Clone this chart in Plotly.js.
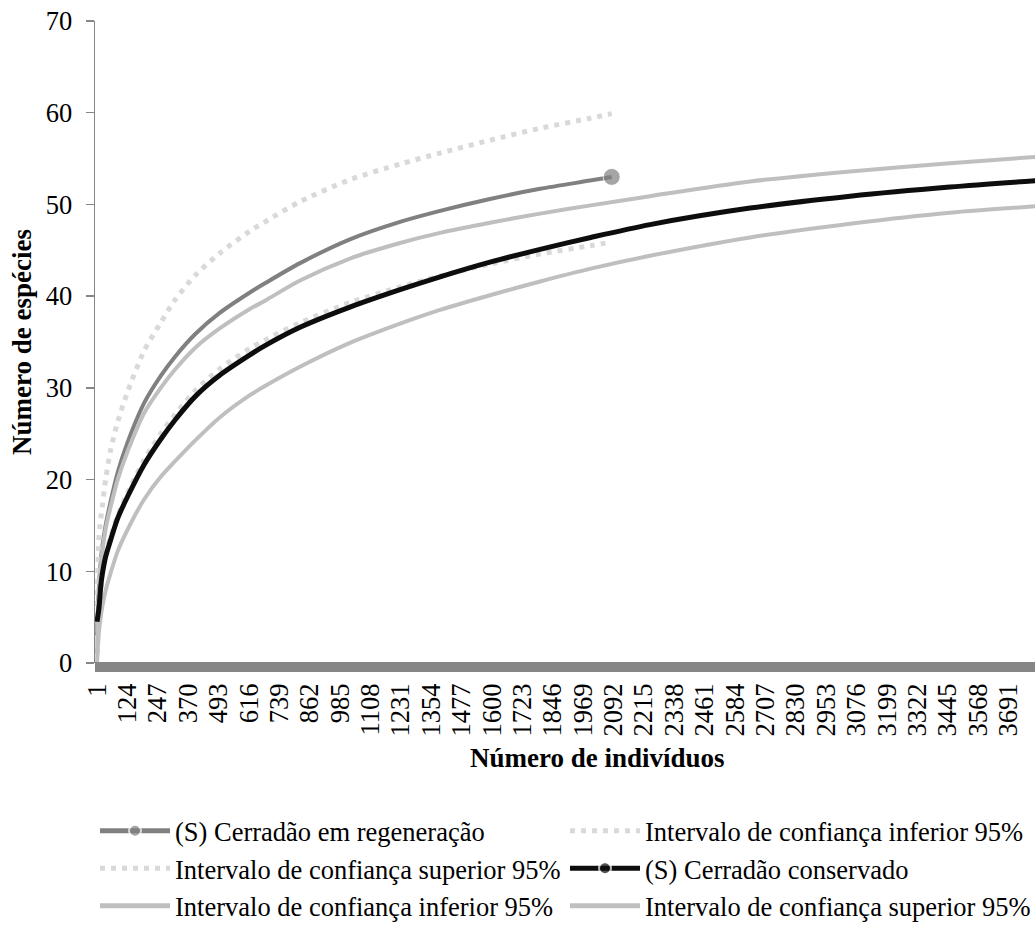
<!DOCTYPE html>
<html>
<head>
<meta charset="utf-8">
<script src="https://cdn.plot.ly/plotly-3.0.1.min.js"></script>
<style>
html,body{margin:0;padding:0;overflow:hidden;background:#fff;}
#chart{width:1043px;height:933px;}
</style>
</head>
<body>
<div id="chart"></div>
<script>
// Número de indivíduos (x) sample points for the "Cerradão em regeneração" curves
const xRegen = [1, 9, 16, 22, 36, 56, 85, 124, 191, 259, 317, 400, 499, 620, 681, 823, 1025, 1228, 1390, 1592, 1795, 1997, 2085];
const sRegen = [3, 8.5, 11.0, 12.6, 15.0, 17.6, 20.8, 24.0, 28.3, 31.3, 33.4, 35.9, 38.2, 40.4, 41.4, 43.6, 46.2, 48.1, 49.3, 50.6, 51.7, 52.6, 53.0];
const regenLower = [1, 5.0, 8.0, 9.6, 11.8, 13.7, 16.1, 18.5, 22.1, 25.0, 27.1, 29.7, 32.1, 34.3, 35.2, 37.1, 39.3, 41.0, 42.2, 43.5, 44.6, 45.5, 45.9];
const regenUpper = [5, 13.8, 15.7, 17.0, 20.0, 23.2, 26.3, 29.5, 34.0, 37.1, 39.6, 42.3, 44.7, 47.1, 48.1, 50.3, 52.7, 54.4, 55.6, 57.0, 58.3, 59.4, 59.9];

// Número de indivíduos (x) sample points for the "Cerradão conservado" curves
const xCons = [1, 9, 16, 22, 36, 56, 85, 124, 191, 259, 317, 400, 499, 620, 681, 823, 1025, 1228, 1390, 1592, 1795, 2000, 2240, 2645, 3050, 3454, 3860];
const sCons = [4.5, 6.0, 8.3, 9.6, 11.6, 13.4, 15.8, 18.1, 21.6, 24.4, 26.5, 29.1, 31.4, 33.6, 34.6, 36.6, 38.8, 40.7, 42.1, 43.7, 45.1, 46.4, 47.8, 49.6, 50.9, 51.9, 52.7];
const consLower = [0, 3.5, 5.0, 6.1, 7.9, 9.8, 12.2, 14.5, 17.8, 20.3, 22.0, 24.3, 26.8, 29.2, 30.2, 32.3, 34.9, 37.0, 38.5, 40.1, 41.6, 43.0, 44.4, 46.4, 47.9, 49.1, 49.9];
const consUpper = [1, 7.5, 10.3, 12.0, 14.6, 17.0, 20.0, 23.0, 27.2, 30.0, 32.0, 34.4, 36.5, 38.6, 39.5, 41.7, 44.1, 45.8, 46.9, 48.0, 49.0, 49.9, 50.9, 52.5, 53.6, 54.5, 55.3];

const seriesNames = [
  "(S) Cerradão em regeneração",
  "Intervalo de confiança inferior 95%",
  "Intervalo de confiança superior 95%",
  "(S) Cerradão conservado",
  "Intervalo de confiança inferior 95%",
  "Intervalo de confiança superior 95%"
];
const xTitle = "Número de indivíduos";
const yTitle = "Número de espécies";

const FONT = "Liberation Serif";
const FS = 26.5;

function endMarker(arr, size) {
  return arr.map((v, i) => (i === arr.length - 1 ? size : 0));
}

const SM = 0.8;
const traces = [
  {
    x: xRegen, y: sRegen, name: seriesNames[0], mode: "lines+markers", legendrank: 1,
    line: {color: "#808080", width: 4, shape: "spline", smoothing: SM},
    marker: {color: "#808080", size: endMarker(xRegen, 17)}
  },
  {
    x: xRegen, y: regenLower, name: seriesNames[1], mode: "lines", legendrank: 2,
    line: {color: "#d9d9d9", width: 5, dash: "5px,6px", shape: "spline", smoothing: SM}
  },
  {
    x: xRegen, y: regenUpper, name: seriesNames[2], mode: "lines", legendrank: 3,
    line: {color: "#d9d9d9", width: 5, dash: "5px,6px", shape: "spline", smoothing: SM}
  },
  {
    x: xCons, y: consLower, name: seriesNames[4], mode: "lines", legendrank: 5,
    line: {color: "#bfbfbf", width: 4, shape: "spline", smoothing: SM}
  },
  {
    x: xCons, y: consUpper, name: seriesNames[5], mode: "lines", legendrank: 6,
    line: {color: "#bfbfbf", width: 4, shape: "spline", smoothing: SM}
  },
  {
    x: xCons, y: sCons, name: seriesNames[3], mode: "lines+markers", legendrank: 4,
    line: {color: "#0d0d0d", width: 5, shape: "spline", smoothing: SM},
    marker: {color: "#0d0d0d", size: endMarker(xCons, 17)}
  }
];

const layout = {
  width: 1043, height: 933,
  margin: {l: 95, r: 0, t: 21, b: 270, pad: 0},
  paper_bgcolor: "#fff", plot_bgcolor: "#fff",
  font: {family: FONT, size: FS, color: "#000"},
  showlegend: true,
  xaxis: {
    range: [-7.1, 3831],
    tick0: 1, dtick: 123, tickmode: "linear",
    tickangle: -90,
    tickfont: {family: FONT, size: FS, color: "#000"},
    ticks: "", showgrid: false, zeroline: false,
    showline: true, linecolor: "rgba(0,0,0,0)", linewidth: 10,
    ticklabelstandoff: 0
  },
  yaxis: {
    range: [0, 70], dtick: 10, tick0: 0,
    tickfont: {family: FONT, size: FS, color: "#000"},
    ticks: "outside", ticklen: 8, tickcolor: "#868686", tickwidth: 1.5,
    showgrid: false, zeroline: false,
    showline: true, linecolor: "#868686", linewidth: 1.5,
    ticklabelstandoff: 8,
    title: {text: "<b>" + yTitle + "</b>", font: {family: FONT, size: 27, color: "#000"}, standoff: 6}
  },
  // thick grey category-axis band drawn just under the zero line, as in the original
  shapes: [{
    type: "rect", xref: "paper", yref: "paper", layer: "above",
    x0: 0, x1: 1, y0: 0.0016, y1: -0.014,
    fillcolor: "#868686", line: {width: 0}
  }],
  annotations: [{
    text: "<b>" + xTitle + "</b>", xref: "paper", yref: "paper",
    x: 0.53, y: -0.148, xanchor: "center", yanchor: "middle",
    showarrow: false, font: {family: FONT, size: 27, color: "#000"}
  }],
  legend: {
    orientation: "h", x: 0, xanchor: "left", y: -0.2243, yanchor: "top",
    entrywidth: 385, entrywidthmode: "pixels",
    itemwidth: 70, itemsizing: "constant",
    font: {family: FONT, size: FS, color: "#000"},
    bgcolor: "rgba(0,0,0,0)", traceorder: "normal"
  }
};

Plotly.newPlot("chart", traces, layout, {displayModeBar: false, staticPlot: true});
</script>
</body>
</html>
